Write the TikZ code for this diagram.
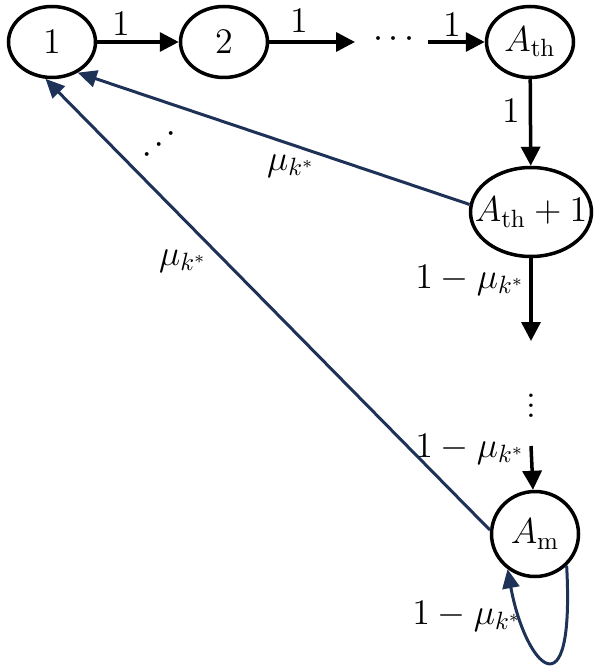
\documentclass[tikz,border=0pt]{standalone}
\usetikzlibrary{arrows.meta,shapes.geometric}
\definecolor{navy}{RGB}{30,50,88}
\begin{document}
\begin{tikzpicture}[x=0.4pt,y=-0.4pt,
  every node/.style={font=\fontsize{14.4}{17}\selectfont},
  st/.style={draw=black,line width=1.4pt,ellipse,inner sep=0pt,fill=white},
  blk/.style={line width=1.4pt,-{Triangle[length=7.6pt,width=7.6pt]}},
  blu/.style={draw=navy,line width=1.2pt,-{Triangle[length=7.6pt,width=6.8pt]}},
  lab/.style={inner sep=0pt}]
\useasboundingbox (0,0) rectangle (599,672);
\node[st,minimum width=34.8pt,minimum height=28.4pt] (n1) at (52,42) {$1$};
\node[st,minimum width=34.8pt,minimum height=28.4pt] (n2) at (224,42) {$2$};
\node[st,minimum width=34.8pt,minimum height=28.4pt] (Ath) at (530,42) {\makebox[0pt]{$A_{\mathrm{th}}$}};
\node[st,minimum width=48.4pt,minimum height=35.6pt] (Ath1) at (531,212) {\makebox[0pt]{$A_{\mathrm{th}}+1$}};
\node[st,minimum width=34.8pt,minimum height=34pt] (Am) at (535,534) {\makebox[0pt]{$A_{\mathrm{m}}$}};
\node[lab] (hdots) at (394,40) {$\cdots$};
\node[lab] (vdots) at (531,398) {$\vdots$};
\node[lab,rotate=42] (ddots) at (160,145) {$\cdots$};
\coordinate (h1) at (355,42);
\coordinate (h2) at (428,42);
\coordinate (v1) at (531,341);
\coordinate (v2) at (531,446);
\node[lab] (l1) at (121,24) {$1$};
\node[lab] (l2) at (299,21) {$1$};
\node[lab] (l3) at (452,25) {$1$};
\node[lab] (l4) at (511,111) {$1$};
\node[lab] (l5) at (470,280) {$1-\mu_{k^*}$};
\node[lab] (l6) at (470,449) {$1-\mu_{k^*}$};
\node[lab] (l7) at (291,166) {$\mu_{k^*}$};
\node[lab] (l8) at (183,261) {$\mu_{k^*}$};
\node[lab] (l9) at (467,616) {$1-\mu_{k^*}$};
\draw[blk] (n1) -- (n2);
\draw[blk] (n2) -- (h1);
\draw[blk] (h2) -- (Ath);
\draw[blk] (Ath) -- (Ath1);
\draw[blk] (Ath1) -- (v1);
\draw[blk] (v2) -- (Am);
\draw[blu] (Ath1.173) -- (n1.-50);
\draw[blu] (Am.175) -- (n1.-100);
\draw[blu] (Am.-45) .. controls (575,720) and (525,665) .. (Am.-128);
\end{tikzpicture}
\end{document}
